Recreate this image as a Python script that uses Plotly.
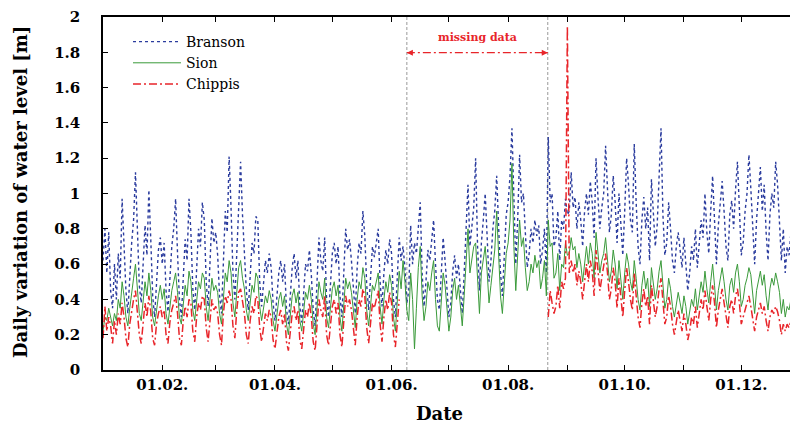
import pandas as pd
import plotly.graph_objects as go

START = "2011-01-01"

branson = [
    0.62, 0.80, 0.55, 0.78, 0.45, 0.35, 0.60,
    0.40, 0.66, 0.52, 0.97, 0.70, 0.45, 0.32,
    0.55, 0.72, 0.85, 1.12, 0.80, 0.48, 0.38,
    0.58, 0.82, 0.65, 1.02, 0.74, 0.42, 0.30,
    0.50, 0.68, 0.75, 0.60, 0.72, 0.45, 0.33,
    0.55, 0.70, 0.80, 0.97, 0.66, 0.40, 0.30,
    0.52, 0.74, 0.62, 0.97, 0.78, 0.46, 0.34,
    0.56, 0.80, 0.70, 0.95, 0.85, 0.50, 0.36,
    0.60, 0.86, 0.72, 0.78, 0.65, 0.42, 0.32,
    0.62, 0.90, 0.78, 1.21, 0.92, 0.55, 0.40,
    0.66, 0.95, 1.18, 0.88, 0.70, 0.45, 0.34,
    0.56, 0.72, 0.66, 0.87, 0.85, 0.50, 0.36,
    0.48, 0.62, 0.55, 0.66, 0.58, 0.38, 0.28,
    0.42, 0.55, 0.62, 0.50, 0.60, 0.35, 0.26,
    0.40, 0.58, 0.66, 0.52, 0.62, 0.36, 0.27,
    0.44, 0.60, 0.56, 0.68, 0.54, 0.34, 0.25,
    0.50, 0.75, 0.62, 0.56, 0.75, 0.40, 0.30,
    0.48, 0.66, 0.72, 0.60, 0.70, 0.42, 0.30,
    0.55, 0.80, 0.68, 0.74, 0.62, 0.45, 0.32,
    0.58, 0.72, 0.66, 0.90, 0.76, 0.48, 0.34,
    0.52, 0.70, 0.64, 0.72, 0.80, 0.50, 0.36,
    0.55, 0.68, 0.60, 0.74, 0.66, 0.40, 0.30,
    0.50, 0.75, 0.62, 0.70, 0.58, 0.38, 0.45,
    0.82, 0.60, 0.72, 0.66, 0.80, 0.95, 0.55,
    0.36, 0.50, 0.68, 0.62, 0.72, 0.85, 0.60,
    0.40, 0.34, 0.55, 0.75, 0.62, 0.48, 0.30,
    0.38, 0.56, 0.65, 0.52, 0.60, 0.45, 0.32,
    0.55, 0.78, 1.05, 0.70, 0.80, 0.92, 1.20,
    0.70, 0.45, 0.72, 0.85, 1.00, 0.76, 0.50,
    0.62, 0.80, 0.90, 1.10, 0.82, 0.55, 0.42,
    0.65, 0.88, 0.95, 1.10, 1.37, 0.90, 0.60,
    0.85, 1.22, 0.95, 1.00, 0.78, 0.58, 0.66,
    0.80, 0.72, 0.85, 0.76, 0.82, 0.60, 0.68,
    0.80, 0.55, 1.32, 0.95, 1.00, 0.70, 0.75,
    0.90, 0.62, 0.85, 0.80, 0.97, 0.88, 0.90,
    1.12, 0.92, 0.98, 0.80, 0.95, 0.85, 0.70,
    0.90, 1.00, 0.88, 1.07, 0.95, 0.75, 1.20,
    0.98, 0.80, 0.92, 1.00, 1.27, 1.05, 0.78,
    0.88, 1.10, 0.95, 0.72, 1.00, 0.82, 0.65,
    0.90, 1.20, 1.05, 0.85, 0.78, 1.28, 0.95,
    0.70, 0.60, 0.85, 0.98, 0.80, 0.92, 0.62,
    1.08, 0.90, 0.70, 0.82, 1.05, 1.37, 0.88,
    0.65, 0.72, 0.95, 0.80, 0.62, 0.55, 0.70,
    0.78, 0.68, 0.58, 0.75, 0.60, 0.45, 0.55,
    0.70, 0.62, 0.80, 0.58, 0.72, 0.85, 0.75,
    1.00, 0.78, 0.66, 0.90, 1.10, 0.85, 0.60,
    0.82, 0.95, 1.07, 0.90, 0.70, 0.62, 0.88,
    0.96, 0.80, 1.02, 1.18, 0.92, 0.65, 0.72,
    0.90, 1.00, 1.22, 1.03, 0.80, 0.60, 0.85,
    0.98, 1.15, 0.90, 1.05, 0.78, 0.62, 0.88,
    1.00, 0.92, 1.18, 1.05, 0.85, 0.62, 0.80,
    0.55, 0.70, 0.65, 0.78, 0.60, 0.50, 0.66,
    0.58,
]

sion = [
    0.22, 0.30, 0.28, 0.35, 0.30, 0.25, 0.32,
    0.28, 0.40, 0.35, 0.50, 0.42, 0.30, 0.25,
    0.35, 0.45, 0.52, 0.60, 0.48, 0.32, 0.28,
    0.38, 0.50, 0.42, 0.55, 0.45, 0.30, 0.25,
    0.35, 0.42, 0.48, 0.40, 0.46, 0.32, 0.26,
    0.36, 0.45, 0.50, 0.55, 0.44, 0.30, 0.26,
    0.38, 0.48, 0.42, 0.56, 0.50, 0.34, 0.28,
    0.40, 0.50, 0.46, 0.55, 0.52, 0.36, 0.28,
    0.40, 0.52, 0.45, 0.48, 0.44, 0.32, 0.26,
    0.42, 0.55, 0.50, 0.62, 0.55, 0.38, 0.30,
    0.45, 0.58, 0.62, 0.52, 0.46, 0.34, 0.28,
    0.40, 0.48, 0.44, 0.55, 0.52, 0.36, 0.28,
    0.34, 0.42, 0.38, 0.45, 0.40, 0.28, 0.22,
    0.32, 0.40, 0.44, 0.36, 0.42, 0.26, 0.20,
    0.30, 0.42, 0.46, 0.38, 0.44, 0.28, 0.22,
    0.32, 0.44, 0.40, 0.48, 0.40, 0.26, 0.20,
    0.36, 0.50, 0.44, 0.40, 0.52, 0.30, 0.24,
    0.35, 0.46, 0.50, 0.42, 0.48, 0.30, 0.22,
    0.38, 0.52, 0.46, 0.50, 0.44, 0.32, 0.24,
    0.40, 0.50, 0.46, 0.58, 0.52, 0.34, 0.25,
    0.38, 0.48, 0.45, 0.50, 0.55, 0.36, 0.26,
    0.40, 0.50, 0.44, 0.54, 0.48, 0.30, 0.22,
    0.38, 0.56, 0.46, 0.62, 0.50, 0.34, 0.28,
    0.55, 0.40, 0.12, 0.35, 0.58, 0.70, 0.42,
    0.28, 0.36, 0.50, 0.45, 0.55, 0.62, 0.40,
    0.25, 0.22, 0.40, 0.55, 0.48, 0.35, 0.22,
    0.30, 0.45, 0.52, 0.40, 0.48, 0.36, 0.25,
    0.42, 0.60, 0.80, 0.55, 0.62, 0.70, 0.72,
    0.50, 0.32, 0.55, 0.62, 0.70, 0.56, 0.38,
    0.48, 0.60, 0.68, 0.90, 0.62, 0.42, 0.32,
    0.50, 0.66, 0.72, 0.85, 1.17, 0.70, 0.45,
    0.62, 0.85, 0.70, 0.75, 0.58, 0.45, 0.50,
    0.60, 0.55, 0.65, 0.58, 0.62, 0.46, 0.52,
    0.62, 0.42, 0.85, 0.70, 0.72, 0.52, 0.55,
    0.66, 0.45, 0.60, 0.58, 0.72, 0.65, 0.66,
    0.75, 0.68, 0.70, 0.58, 0.66, 0.60, 0.50,
    0.62, 0.70, 0.60, 0.72, 0.66, 0.52, 0.78,
    0.66, 0.55, 0.62, 0.66, 0.75, 0.64, 0.50,
    0.56, 0.68, 0.60, 0.46, 0.62, 0.52, 0.40,
    0.55, 0.66, 0.60, 0.50, 0.45, 0.62, 0.52,
    0.40, 0.34, 0.48, 0.56, 0.46, 0.52, 0.36,
    0.58, 0.50, 0.40, 0.46, 0.56, 0.62, 0.48,
    0.35, 0.40, 0.52, 0.46, 0.36, 0.30, 0.38,
    0.44, 0.38, 0.32, 0.42, 0.36, 0.26, 0.32,
    0.40, 0.36, 0.46, 0.34, 0.42, 0.50, 0.44,
    0.56, 0.46, 0.38, 0.50, 0.60, 0.48, 0.34,
    0.45, 0.52, 0.58, 0.50, 0.40, 0.34, 0.48,
    0.52, 0.44, 0.55, 0.60, 0.50, 0.36, 0.40,
    0.48, 0.52, 0.58, 0.54, 0.44, 0.32, 0.45,
    0.50, 0.56, 0.48, 0.54, 0.42, 0.34, 0.46,
    0.52, 0.48, 0.55, 0.50, 0.44, 0.32, 0.40,
    0.30, 0.36, 0.34, 0.40, 0.32, 0.28, 0.35,
    0.30,
]

chippis = [
    0.18, 0.36, 0.22, 0.30, 0.25, 0.15, 0.28,
    0.20, 0.32, 0.26, 0.38, 0.30, 0.18, 0.13,
    0.26, 0.34, 0.40, 0.45, 0.32, 0.20, 0.15,
    0.28, 0.38, 0.30, 0.42, 0.33, 0.18, 0.14,
    0.26, 0.32, 0.36, 0.30, 0.34, 0.20, 0.15,
    0.27, 0.34, 0.38, 0.42, 0.32, 0.18, 0.14,
    0.28, 0.36, 0.30, 0.40, 0.38, 0.22, 0.16,
    0.30, 0.38, 0.34, 0.42, 0.40, 0.24, 0.16,
    0.30, 0.40, 0.34, 0.36, 0.32, 0.20, 0.14,
    0.32, 0.42, 0.38, 0.45, 0.40, 0.25, 0.18,
    0.34, 0.44, 0.46, 0.38, 0.32, 0.20, 0.15,
    0.28, 0.36, 0.32, 0.42, 0.40, 0.24, 0.16,
    0.24, 0.32, 0.28, 0.34, 0.30, 0.17, 0.12,
    0.22, 0.30, 0.34, 0.26, 0.32, 0.16, 0.11,
    0.22, 0.32, 0.36, 0.28, 0.34, 0.17, 0.12,
    0.24, 0.34, 0.30, 0.38, 0.30, 0.16, 0.11,
    0.26, 0.40, 0.34, 0.30, 0.42, 0.20, 0.14,
    0.25, 0.36, 0.40, 0.32, 0.38, 0.20, 0.13,
    0.28, 0.42, 0.36, 0.40, 0.34, 0.22, 0.14,
    0.30, 0.40, 0.36, 0.46, 0.42, 0.24, 0.15,
    0.28, 0.38, 0.35, 0.40, 0.45, 0.26, 0.16,
    0.30, 0.40, 0.34, 0.44, 0.38, 0.20, 0.13,
    0.28, 0.40,
] + [None] * 77 + [
    0.30, 0.45, 0.38, 0.32, 0.36,
    0.48, 0.35, 0.50, 0.46, 0.52, 1.95, 0.55,
    0.62, 0.55, 0.60, 0.48, 0.56, 0.50, 0.40,
    0.52, 0.60, 0.50, 0.62, 0.56, 0.42, 0.68,
    0.56, 0.45, 0.52, 0.58, 0.66, 0.55, 0.40,
    0.46, 0.58, 0.50, 0.35, 0.52, 0.42, 0.30,
    0.45, 0.58, 0.50, 0.40, 0.34, 0.55, 0.42,
    0.30, 0.24, 0.38, 0.46, 0.36, 0.42, 0.26,
    0.48, 0.40, 0.30, 0.36, 0.46, 0.52, 0.38,
    0.26, 0.30, 0.42, 0.36, 0.26, 0.20, 0.28,
    0.34, 0.28, 0.22, 0.32, 0.26, 0.17, 0.22,
    0.30, 0.26, 0.36, 0.24, 0.32, 0.40, 0.34,
    0.45, 0.36, 0.28, 0.40, 0.48, 0.38, 0.24,
    0.34, 0.40, 0.46, 0.38, 0.30, 0.24, 0.36,
    0.40, 0.32, 0.42, 0.46, 0.38, 0.26, 0.30,
    0.34, 0.38, 0.42, 0.36, 0.30, 0.22, 0.30,
    0.34, 0.38, 0.32, 0.36, 0.28, 0.22, 0.30,
    0.34, 0.32, 0.36, 0.33, 0.28, 0.20, 0.26,
    0.22, 0.26, 0.24, 0.28, 0.22, 0.18, 0.24,
    0.20,
]

# missing-data window markers (dates)
GAP_START = "2011-06-09"
GAP_END = "2011-08-21 18:00"
X_END = "2011-12-26 12:00"

month_ticks = ["2011-02-01", "2011-03-01", "2011-04-01", "2011-05-01",
               "2011-06-01", "2011-07-01", "2011-08-01", "2011-09-01",
               "2011-10-01", "2011-11-01", "2011-12-01"]
month_labels = ["01.02.", "", "01.04.", "", "01.06.", "", "01.08.", "",
                "01.10.", "", "01.12."]
y_ticks = [0, 0.2, 0.4, 0.6, 0.8, 1.0, 1.2, 1.4, 1.6, 1.8, 2.0]
y_labels = ["0", "0.2", "0.4", "0.6", "0.8", "1", "1.2", "1.4", "1.6", "1.8", "2"]


def dates(values):
    return pd.date_range(START, periods=len(values), freq="D")


SERIF = "DejaVu Serif"
RED = "#e8252a"
RED_DASH = "8px,3px,2px,3px"

# plot-area pixel geometry (for placing paper-referenced text)
L, R, T, B = 103, 790, 17, 370
W, H = R - L, B - T


def px(xp):
    return (xp - L) / W


def py(yp):
    return (B - yp) / H


fig = go.Figure()
fig.add_trace(go.Scatter(x=dates(branson), y=branson, name="Branson", mode="lines",
                         line=dict(color="#2b3c9e", width=1.4, dash="dot")))
fig.add_trace(go.Scatter(x=dates(sion), y=sion, name="Sion", mode="lines",
                         line=dict(color="#3a9a3a", width=1.0)))
fig.add_trace(go.Scatter(x=dates(chippis), y=chippis, name="Chippis", mode="lines",
                         connectgaps=False,
                         line=dict(color=RED, width=1.5, dash=RED_DASH)))

# missing data markers
for gx in (GAP_START, GAP_END):
    fig.add_shape(type="line", xref="x", yref="paper", x0=gx, x1=gx, y0=0, y1=1,
                  line=dict(color="#999999", width=1, dash="3px,2px"), layer="below")
fig.add_shape(type="line", xref="x", yref="paper", x0=GAP_START, x1=GAP_END,
              y0=py(52.7), y1=py(52.7),
              line=dict(color=RED, width=1.2, dash=RED_DASH))
fig.add_annotation(x=GAP_START, y=py(52.7), xref="x", yref="paper", text="",
                   showarrow=True, ax=8, ay=0, arrowhead=2, arrowsize=1,
                   arrowwidth=1.2, arrowcolor=RED)
fig.add_annotation(x=GAP_END, y=py(52.7), xref="x", yref="paper", text="",
                   showarrow=True, ax=-8, ay=0, arrowhead=2, arrowsize=1,
                   arrowwidth=1.2, arrowcolor=RED)
gap_mid = pd.Timestamp(GAP_START) + (pd.Timestamp(GAP_END) - pd.Timestamp(GAP_START)) / 2
fig.add_annotation(x=gap_mid, y=py(37), xref="x", yref="paper", text="missing data",
                   showarrow=False, xanchor="center", yanchor="middle",
                   font=dict(family=SERIF, size=11, color=RED, weight="bold"))

# axis titles
fig.add_annotation(x=px(439), y=py(413), xref="paper", yref="paper", text="Date",
                   showarrow=False, xanchor="center", yanchor="middle",
                   font=dict(family=SERIF, size=18, color="black", weight="bold"))
fig.add_annotation(x=px(20), y=py(192), xref="paper", yref="paper",
                   text="Daily variation of water level [m]", textangle=-90,
                   showarrow=False, xanchor="center", yanchor="middle",
                   font=dict(family=SERIF, size=18, color="black", weight="bold"))

fig.update_layout(
    width=790, height=431,
    margin=dict(l=L, r=0, t=T, b=431 - B),
    paper_bgcolor="white", plot_bgcolor="white",
    showlegend=True,
    legend=dict(x=px(128), y=py(26), xanchor="left", yanchor="top",
                itemwidth=48,
                bgcolor="rgba(0,0,0,0)", font=dict(family=SERIF, size=14, color="black"),
                tracegroupgap=0),
    xaxis=dict(range=[START, X_END], tickvals=month_ticks, ticktext=month_labels,
               ticks="inside", ticklen=5, tickwidth=1, tickcolor="black",
               showline=True, linecolor="black", linewidth=1.5, mirror="ticks",
               showgrid=False, zeroline=False,
               tickfont=dict(family=SERIF, size=15, color="black", weight="bold")),
    yaxis=dict(range=[0, 2], tickvals=y_ticks, ticktext=y_labels,
               ticks="inside", ticklen=5, tickwidth=1, tickcolor="black",
               showline=True, linecolor="black", linewidth=1.5,
               showgrid=False, zeroline=False, ticklabelstandoff=18,
               tickfont=dict(family=SERIF, size=15, color="black", weight="bold")),
)

fig.write_html("out.html", config={"displayModeBar": False},
               post_script="document.body.style.margin='0';")
